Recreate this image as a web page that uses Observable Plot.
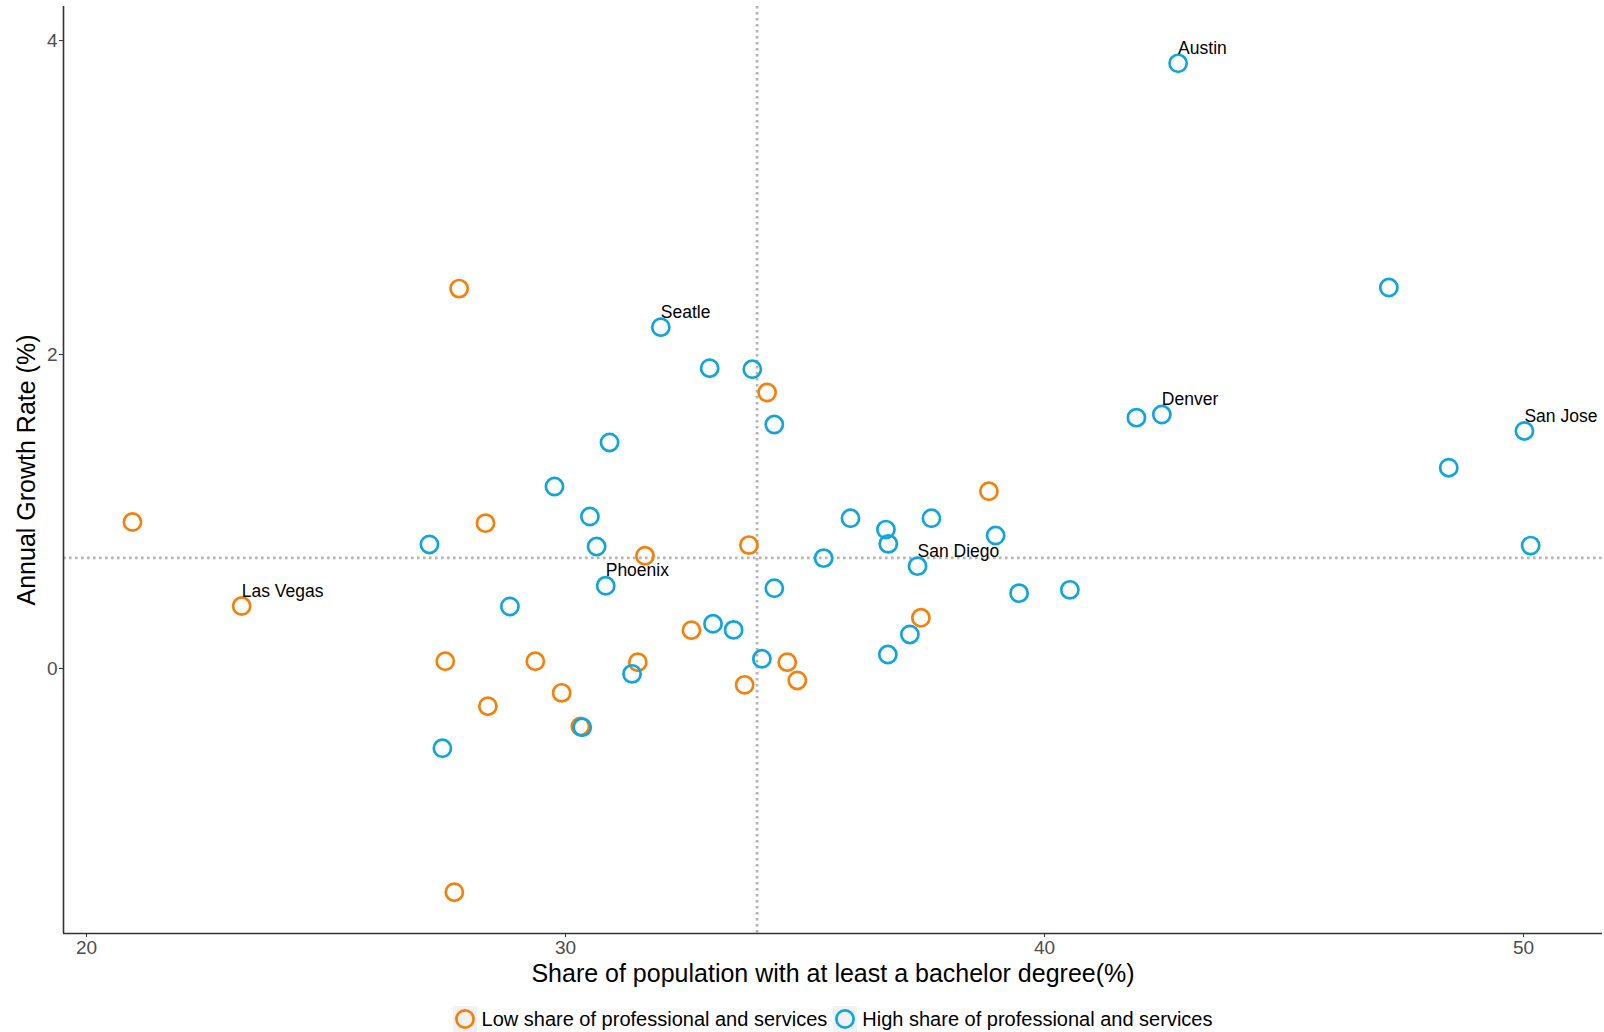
<!DOCTYPE html>
<html>
<head>
<meta charset="utf-8">
<script src="https://cdn.jsdelivr.net/npm/d3@7"></script>
<script src="https://cdn.jsdelivr.net/npm/@observablehq/plot@0.6"></script>
<style>
  html, body { margin: 0; padding: 0; background: #fff; }
  body { width: 1604px; height: 1032px; overflow: hidden; font-family: "Liberation Sans", Arial, sans-serif; }
  #legend { display: flex; justify-content: center; align-items: center; height: 38px; margin: 5px 2px 0 63px; font-size: 20px; color: #000; }
  .item { display: flex; align-items: center; margin: 0 3px; }
  .key { width: 24px; height: 26px; background: #f2f2f2; display: flex; align-items: center; justify-content: center; margin-right: 5px; }
</style>
</head>
<body>
<div id="chart"></div>
<div id="legend"></div>
<script>
// ---- Data ----
const groups = ["Low share of professional and services", "High share of professional and services"];
const groupColors = ["#F7800A", "#10A5E0"];

// Low share of professional and services (orange)
const lowX = [20.96, 23.24, 27.78, 28.33, 27.49, 28.38, 29.37, 29.92, 30.31, 27.68, 31.51, 31.66, 32.63, 33.74, 33.83, 34.21, 34.63, 34.84, 37.42, 38.84];
const lowY = [0.933, 0.398, 2.42, 0.926, 0.046, -0.240, 0.046, -0.155, -0.369, -1.425, 0.040, 0.718, 0.244, -0.104, 0.786, 1.758, 0.040, -0.076, 0.323, 1.129];
const lowName = [null, "Las Vegas", null, null, null, null, null, null, null, null, null, null, null, null, null, null, null, null, null, null];

// High share of professional and services (blue)
const highX = [42.79, 47.19, 41.92, 42.45, 50.02, 48.44, 50.15, 31.99, 33.01, 33.90, 34.36, 30.92, 29.77, 30.51, 27.16, 30.65, 30.84, 28.84, 31.39, 30.35, 27.43, 33.08, 33.51, 34.10, 34.36, 35.39, 35.95, 36.69, 36.74, 37.64, 38.98, 37.35, 39.47, 40.53, 37.19, 36.73];
const highY = [3.855, 2.427, 1.598, 1.618, 1.513, 1.279, 0.783, 2.174, 1.913, 1.906, 1.554, 1.440, 1.159, 0.968, 0.790, 0.777, 0.527, 0.395, -0.034, -0.374, -0.508, 0.285, 0.246, 0.062, 0.511, 0.703, 0.957, 0.885, 0.794, 0.957, 0.847, 0.652, 0.480, 0.501, 0.217, 0.089];
const highName = ["Austin", null, null, "Denver", "San Jose", null, null, "Seatle", null, null, null, null, null, null, null, null, "Phoenix", null, null, null, null, null, null, null, null, null, null, null, null, null, null, "San Diego", null, null, null, null];

const meanX = 34.0;
const meanY = 0.705;
const xTicks = [20, 30, 40, 50];
const yTicks = [0, 2, 4];
const xTitle = "Share of population with at least a bachelor degree(%)";
const yTitle = "Annual Growth Rate (%)";

// ---- Build table ----
const points = [
  ...lowX.map((x, i) => ({x, y: lowY[i], name: lowName[i], group: groups[0]})),
  ...highX.map((x, i) => ({x, y: highY[i], name: highName[i], group: groups[1]}))
];
const labeled = points.filter(d => d.name);

const xDomain = [19.52, 51.65];
const yDomain = [-1.688, 4.217];

const chart = Plot.plot({
  width: 1604,
  height: 995,
  marginLeft: 63,
  marginRight: 2,
  marginTop: 6,
  marginBottom: 62,
  style: { fontFamily: "Liberation Sans, Arial, sans-serif", fontSize: "19px", background: "#fff", overflow: "visible" },
  x: { domain: xDomain },
  y: { domain: yDomain },
  color: { domain: groups, range: groupColors },
  marks: [
    Plot.ruleX([meanX], { stroke: "#b5b5b5", strokeWidth: 2.8, strokeDasharray: "2.6,3.4" }),
    Plot.ruleY([meanY], { stroke: "#b5b5b5", strokeWidth: 2.8, strokeDasharray: "2.6,3.4" }),
    Plot.dot(points, { x: "x", y: "y", r: 8.6, stroke: "group", strokeWidth: 2.7, fill: "none" }),
    Plot.text(labeled, { x: "x", y: "y", text: "name", textAnchor: "start", dy: -15, fontSize: 17.5, fill: "#000" }),
    Plot.axisX({ ticks: xTicks, tickFormat: d => String(d), tickSize: 4, tickPadding: 3, fontSize: 19, stroke: "#333", fill: "#4d4d4d", label: null }),
    Plot.axisY({ ticks: yTicks, tickFormat: d => String(d), tickSize: 4, tickPadding: 2, fontSize: 19, stroke: "#333", fill: "#4d4d4d", label: null }),
    Plot.ruleX([xDomain[0]], { stroke: "#333", strokeWidth: 1.6 }),
    Plot.ruleY([yDomain[0]], { stroke: "#333", strokeWidth: 1.6 }),
    Plot.text([xTitle], { frameAnchor: "bottom", lineAnchor: "middle", textAnchor: "middle", dy: 40, fontSize: 25, fill: "#000" }),
    Plot.text([yTitle], { frameAnchor: "left", lineAnchor: "middle", textAnchor: "middle", dx: -37, rotate: -90, fontSize: 25, fill: "#000" })
  ]
});
document.getElementById("chart").appendChild(chart);

// ---- Legend ----
const legend = document.getElementById("legend");
groups.forEach((g, i) => {
  const item = document.createElement("div");
  item.className = "item";
  item.innerHTML = `<div class="key"><svg width="24" height="24"><circle cx="12" cy="12" r="8.6" fill="none" stroke="${groupColors[i]}" stroke-width="2.7"/></svg></div><span>${g}</span>`;
  legend.appendChild(item);
});
</script>
</body>
</html>
